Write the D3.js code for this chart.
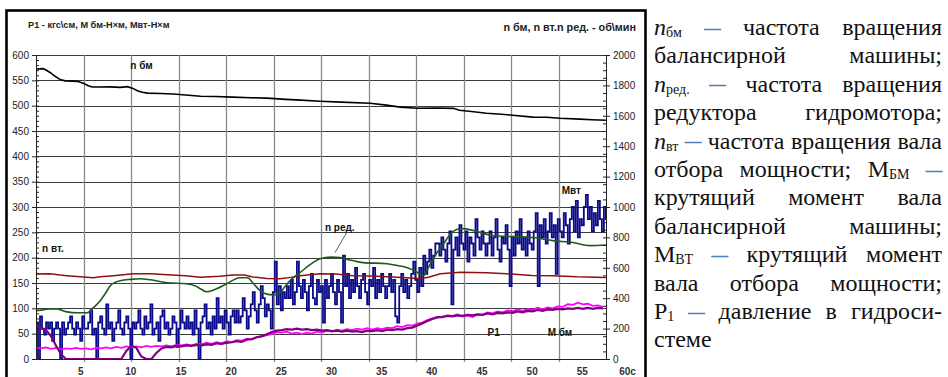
<!DOCTYPE html>
<html>
<head>
<meta charset="utf-8">
<script src="https://cdn.jsdelivr.net/npm/d3@7"></script>
<style>
  html, body { margin: 0; padding: 0; background: #fff; }
  svg { display: block; }
</style>
</head>
<body>
<svg id="chart" width="948" height="377"></svg>
<script>
// ---------------- data ----------------
// time in seconds; n-series in rpm (right axis), moments / pressure on the left axis
const xTickValues = [5, 10, 15, 20, 25, 30, 35, 40, 45, 50, 55, 60];
const leftTickValues = [0, 50, 100, 150, 200, 250, 300, 350, 400, 450, 500, 550, 600];
const rightTickValues = [0, 200, 400, 600, 800, 1000, 1200, 1400, 1600, 1800, 2000];

// n бм — balance machine speed, rpm
const nBmTime = [0.6, 1.3, 1.6, 2.0, 2.5, 3.0, 3.5, 4.3, 4.8, 5.3, 5.8, 6.2, 7.0, 8.0, 9.0, 9.7, 10.2, 10.7, 11.2, 11.7,
  13.0, 14.3, 15.5, 17.0, 18.5, 20.2, 22.0, 23.6, 25.5, 27.0, 28.9, 31.0, 33.9, 35.5, 36.9, 38.6, 40.5, 42.2, 42.8, 44.0,
  45.5, 47.0, 48.1, 50.1, 51.5, 52.8, 54.8, 56.0, 57.4];
const nBmValue = [1908, 1910, 1901, 1885, 1860, 1838, 1830, 1828, 1826, 1815, 1798, 1789, 1789, 1790, 1787, 1792, 1782, 1765, 1755, 1749,
  1747, 1743, 1737, 1729, 1727, 1723, 1719, 1716, 1708, 1703, 1696, 1690, 1683, 1670, 1657, 1650, 1651, 1649, 1637, 1628,
  1617, 1610, 1604, 1591, 1590, 1584, 1578, 1574, 1571];

// n ред. — hydraulic motor reducer speed, rpm
const nRedTime = [0.6, 1.4, 2.0, 2.7, 3.2, 3.7, 4.7, 5.7, 6.3, 7.0, 7.5, 8.0, 8.5, 9.0, 10.0, 11.0, 12.0, 13.7, 15.6, 16.5,
  17.0, 17.6, 18.6, 19.6, 20.9, 21.7, 22.2, 22.7, 23.2, 24.2, 24.9, 25.4, 25.9, 26.9, 28.2, 28.9, 30.0, 30.9, 32.0, 33.2,
  35.6, 36.6, 37.6, 38.5, 39.2, 39.7, 40.2, 40.7, 41.2, 41.7, 42.2, 42.7, 43.2, 44.0, 44.9, 46.1, 48.1, 50.1, 52.1, 54.1,
  55.8, 57.4];
const nRedValue = [317, 325, 330, 330, 320, 310, 304, 304, 337, 383, 430, 482, 505, 515, 524, 528, 521, 502, 495, 480,
  462, 442, 462, 495, 535, 535, 502, 465, 436, 422, 436, 475, 515, 568, 634, 660, 670, 667, 650, 634,
  627, 615, 601, 575, 548, 600, 660, 712, 755, 805, 840, 855, 858, 848, 832, 812, 805, 799, 779, 766,
  746, 750];

// n вт — PTO shaft speed, rpm
const nVtTime = [0.6, 2.0, 3.0, 3.7, 5.0, 6.3, 7.0, 8.3, 10.3, 12.0, 13.7, 15.5, 17.0, 18.9, 20.2, 21.4, 22.2, 23.6, 24.9, 26.0,
  26.9, 28.9, 30.5, 32.2, 34.0, 35.6, 37.5, 38.9, 39.8, 40.9, 42.9, 45.5, 47.5, 50.0, 52.1, 54.5, 57.4];
const nVtValue = [559, 561, 552, 548, 541, 535, 541, 548, 561, 561, 554, 548, 538, 545, 552, 552, 540, 530, 528, 537,
  548, 561, 559, 548, 546, 541, 534, 528, 540, 561, 570, 568, 561, 550, 548, 541, 537];

// Мвт — PTO shaft torque, N·m, sampled every 0.2 s from 0.6 s
const mvtStart = 0.6, mvtStep = 0.2;
const mvtValue = [
  72, 0, 84, 60, 48, 72, 60, 72, 36, 60, 72, 60, 0, 72, 48, 60, 72, 84, 60, 48, 72, 60, 36, 84, 60,
  60, 72, 96, 48, 60, 0, 72, 84, 60, 48, 108, 60, 72, 36, 60, 72, 96, 60, 48, 72, 84, 60, 0, 72, 60,
  72, 96, 60, 48, 84, 60, 72, 108, 48, 60, 72, 36, 84, 96, 60, 72, 48, 60, 84, 72, 24, 60, 96, 72, 60,
  84, 60, 72, 48, 96, 60, 0, 72, 84, 108, 60, 72, 48, 84, 60, 120, 72, 84, 60, 96, 72, 48, 84, 96, 72,
  96, 72, 84, 120, 96, 60, 84, 108, 132, 96, 72, 108, 144, 120, 84, 108, 96, 60, 132, 192, 108, 144, 96, 132, 120,
  144, 120, 156, 108, 132, 192, 144, 120, 156, 132, 96, 144, 168, 120, 108, 156, 132, 144, 72, 156, 120, 144, 168, 132, 108,
  156, 132, 72, 204, 144, 168, 120, 156, 132, 180, 144, 120, 156, 168, 132, 108, 156, 144, 180, 120, 156, 132, 168, 144, 120,
  144, 168, 132, 156, 84, 72, 144, 168, 132, 156, 120, 144, 168, 192, 156, 132, 180, 144, 204, 168, 192, 216, 180, 204, 228,
  228, 204, 240, 216, 192, 228, 252, 108, 216, 240, 204, 264, 228, 216, 252, 192, 240, 228, 204, 276, 240, 216, 252, 228, 204,
  228, 252, 204, 240, 276, 216, 192, 240, 228, 264, 216, 144, 240, 204, 252, 228, 276, 216, 240, 204, 252, 228, 216, 252, 288,
  144, 264, 240, 276, 228, 252, 288, 240, 264, 168, 276, 252, 240, 288, 264, 228, 276, 300, 252, 312, 240, 276, 264, 300, 324,
  276, 300, 252, 288, 264, 312, 276, 252, 300, 276, 264];

// P1 — hydraulic pressure, kgf/cm², every 0.5 s from 0.6 s
const p1Start = 0.6, p1Step = 0.5;
const p1Value = [
  22, 21, 23, 20, 22, 19, 21, 20, 22, 20, 21, 19, 22, 21, 23, 21, 24, 22, 25, 23,
  25, 23, 26, 24, 26, 25, 27, 25, 28, 27, 29, 27, 30, 29, 32, 30, 33, 31, 35, 33,
  37, 36, 40, 39, 43, 44, 47, 49, 53, 52, 54, 50, 52, 49, 52, 50, 54, 52, 56, 54,
  58, 56, 59, 57, 60, 58, 61, 58, 61, 59, 62, 61, 65, 63, 67, 66, 70, 72, 77, 80,
  83, 82, 86, 85, 88, 84, 86, 83, 88, 87, 92, 90, 94, 92, 96, 94, 98, 95, 99, 97,
  101, 98, 102, 100, 104, 103, 108, 107, 111, 108, 109, 105, 106, 103];

// М бм — balance machine torque, N·m, every 0.5 s from 0.6 s
const mBmStart = 0.6, mBmStep = 0.5;
const mBmValue = [
  62, 61, 57, 45, 26, 9, 0, 0, 0, 0, 0, 0, 0, 0, 0, 0, 0, 0, 16, 26,
  22, 5, 0, 0, 12, 21, 24, 23, 26, 25, 27, 26, 28, 27, 29, 28, 31, 30, 32, 33,
  35, 34, 38, 39, 43, 45, 49, 53, 56, 57, 59, 58, 60, 58, 59, 57, 58, 56, 57, 55,
  56, 54, 56, 54, 55, 53, 56, 55, 57, 55, 58, 57, 59, 58, 61, 62, 66, 70, 75, 79,
  82, 83, 85, 84, 86, 85, 87, 86, 88, 87, 90, 88, 91, 90, 92, 91, 94, 92, 95, 94,
  97, 95, 98, 97, 99, 98, 100, 99, 101, 99, 101, 99, 101, 100];

// explanatory text to the right of the chart
const noteLines = [
  [[{ t: "n", it: 1 }, { t: "бм", sub: 1 }], [{ t: "—", dash: 1 }], "частота", "вращения"],
  ["балансирной", "машины;"],
  [[{ t: "n", it: 1 }, { t: "ред.", sub: 1 }], [{ t: "—", dash: 1 }], "частота", "вращения"],
  ["редуктора", "гидромотора;"],
  [[{ t: "n", it: 1 }, { t: "вт", sub: 1 }], [{ t: "—", dash: 1 }], "частота", "вращения", "вала"],
  ["отбора", "мощности;", [{ t: "М" }, { t: "БМ", sub: 1 }], [{ t: "—", dash: 1 }]],
  ["крутящий", "момент", "вала"],
  ["балансирной", "машины;"],
  [[{ t: "М" }, { t: "ВТ", sub: 1 }], [{ t: "—", dash: 1 }], "крутящий", "момент"],
  ["вала", "отбора", "мощности;"],
  [[{ t: "P" }, { t: "1", sub: 1 }], [{ t: "—", dash: 1 }], "давление", "в", "гидроси-"],
  ["стеме"]
];

// ---------------- layout ----------------
const plot = { left: 36, right: 606, top: 55, bottom: 359 };
const svg = d3.select("#chart");
const sans = "'Liberation Sans', Arial, sans-serif";

const x = d3.scaleLinear().domain([0, 60]).range([30, 632]);
const yL = d3.scaleLinear().domain([0, 600]).range([plot.bottom, plot.top]);
const yR = d3.scaleLinear().domain([0, 2000]).range([plot.bottom, plot.top]);
const gridX = d3.scaleLinear().domain([0, 12]).range([plot.left, plot.right]);

svg.append("rect").attr("width", 948).attr("height", 377).attr("fill", "#fff");

// outer frame of the figure
svg.append("rect")
  .attr("x", 6.5).attr("y", 10.5).attr("width", 639).attr("height", 400)
  .attr("fill", "none").attr("stroke", "#000").attr("stroke-width", 2.6);

// grid
const gridG = svg.append("g");
gridG.selectAll("line.h").data(leftTickValues.slice(1)).join("line")
  .attr("x1", plot.left).attr("x2", plot.right)
  .attr("y1", d => Math.round(yL(d)) + 0.5).attr("y2", d => Math.round(yL(d)) + 0.5)
  .attr("stroke", "#3c3c3c").attr("stroke-width", 1);
gridG.selectAll("line.v").data(d3.range(1, 12)).join("line")
  .attr("x1", d => Math.round(gridX(d)) + 0.5).attr("x2", d => Math.round(gridX(d)) + 0.5)
  .attr("y1", plot.top).attr("y2", plot.bottom + 3)
  .attr("stroke", "#8a8a8a").attr("stroke-width", 1.3);

// clip for the data lines
svg.append("clipPath").attr("id", "plotClip").append("rect")
  .attr("x", plot.left).attr("y", plot.top - 2)
  .attr("width", plot.right - plot.left).attr("height", plot.bottom - plot.top + 3);

const series = svg.append("g").attr("clip-path", "url(#plotClip)");

function pairs(times, values) { return values.map((v, i) => [times[i], v]); }
function sampled(start, step, values) { return values.map((v, i) => [start + i * step, v]); }

const lineL = d3.line().x(d => x(d[0])).y(d => yL(d[1]));
const lineR = d3.line().x(d => x(d[0])).y(d => yR(d[1]));
const stepL = d3.line().x(d => x(d[0])).y(d => yL(d[1])).curve(d3.curveStepAfter);

// Мвт (navy), drawn first so the smoother curves sit above it
series.append("path").datum(sampled(mvtStart, mvtStep, mvtValue))
  .attr("d", stepL).attr("fill", "none").attr("stroke", "#0a0a8a").attr("stroke-width", 1.8);
// n вт (dark red)
series.append("path").datum(pairs(nVtTime, nVtValue))
  .attr("d", lineR).attr("fill", "none").attr("stroke", "#8e1010").attr("stroke-width", 1.5);
// n ред. (dark green)
series.append("path").datum(pairs(nRedTime, nRedValue))
  .attr("d", d3.line().x(d => x(d[0])).y(d => yR(d[1])).curve(d3.curveMonotoneX))
  .attr("fill", "none").attr("stroke", "#1d5a1d").attr("stroke-width", 1.6);
// n бм (black)
series.append("path").datum(pairs(nBmTime, nBmValue))
  .attr("d", lineR).attr("fill", "none").attr("stroke", "#000").attr("stroke-width", 1.6);
// P1 (magenta)
series.append("path").datum(sampled(p1Start, p1Step, p1Value))
  .attr("d", lineL).attr("fill", "none").attr("stroke", "#ff00ff").attr("stroke-width", 1.8);
// М бм (purple)
series.append("path").datum(sampled(mBmStart, mBmStep, mBmValue))
  .attr("d", lineL).attr("fill", "none").attr("stroke", "#800080").attr("stroke-width", 2.2);

// axes
const axisStyle = g => {
  g.selectAll("path, line").attr("stroke", "#222");
  g.selectAll("text").attr("fill", "#222").attr("font-family", sans).attr("font-size", 10);
};
svg.append("g").attr("transform", `translate(${plot.left},0)`)
  .call(d3.axisLeft(yL).tickValues(leftTickValues).tickSize(4).tickSizeOuter(0).tickPadding(3).tickFormat(d3.format("d")))
  .call(axisStyle);
svg.append("g").attr("transform", `translate(${plot.left},0)`)
  .call(d3.axisRight(yL).tickValues(d3.range(0, 601, 10)).tickSize(3).tickSizeOuter(0).tickFormat(""))
  .call(axisStyle);
svg.append("g").attr("transform", `translate(${plot.right},0)`)
  .call(d3.axisRight(yR).tickValues(rightTickValues).tickSize(4).tickSizeOuter(0).tickPadding(3).tickFormat(d3.format("d")))
  .call(axisStyle);
svg.append("g").attr("transform", `translate(${plot.right},0)`)
  .call(d3.axisLeft(yR).tickValues(d3.range(0, 2001, 50)).tickSize(3).tickSizeOuter(0).tickFormat(""))
  .call(axisStyle);
svg.append("line").attr("x1", plot.left).attr("x2", plot.right)
  .attr("y1", plot.bottom + 0.5).attr("y2", plot.bottom + 0.5).attr("stroke", "#222");
const xAxisG = svg.append("g").attr("transform", `translate(0,${plot.bottom})`)
  .call(d3.axisBottom(x).tickValues(xTickValues).tickSize(0).tickPadding(9)
    .tickFormat(d => d === 60 ? "60с" : d))
  .call(axisStyle);
xAxisG.select(".domain").remove();
xAxisG.selectAll("text").attr("font-weight", "bold").attr("fill", "#333")
  .attr("dx", d => d === 60 ? "-0.5em" : 0);

// titles
svg.append("text").attr("x", 28).attr("y", 28)
  .attr("font-family", sans).attr("font-size", 9.2).attr("font-weight", "bold").attr("fill", "#222")
  .text("P1 - кгс\\см,  М бм-Н×м, Мвт-Н×м");
svg.append("text").attr("x", 636).attr("y", 31).attr("text-anchor", "end")
  .attr("font-family", sans).attr("font-size", 10.8).attr("font-weight", "bold").attr("fill", "#222")
  .text("n бм, n вт.n ред. - об\\мин");

// series labels, positioned in data coordinates (time, left-axis value)
const seriesLabels = [
  { text: "n бм", t: 10.0, v: 572 },
  { text: "n вт.", t: 1.2, v: 211 },
  { text: "n ред.", t: 29.4, v: 253 },
  { text: "Мвт", t: 53.0, v: 326 },
  { text: "P1", t: 45.6, v: 45 },
  { text: "М бм", t: 51.6, v: 45 }
];
svg.append("g").selectAll("text").data(seriesLabels).join("text")
  .attr("x", d => x(d.t)).attr("y", d => yL(d.v))
  .attr("font-family", sans).attr("font-size", 10).attr("font-weight", "bold").attr("fill", "#111")
  .text(d => d.text);
// leader from the "n ред." label to its curve
svg.append("line")
  .attr("x1", x(31.6)).attr("y1", yL(251)).attr("x2", x(30.4)).attr("y2", yL(210))
  .attr("stroke", "#333").attr("stroke-width", 0.8);

// explanatory text block, justified
const note = svg.append("g").attr("font-family", "'Liberation Serif', 'Times New Roman', serif")
  .attr("font-size", 24).attr("fill", "#111");
const noteLeft = 654, noteRight = 942, noteTop = 35, noteLead = 28.4;
noteLines.forEach((words, li) => {
  const y = noteTop + li * noteLead;
  const nodes = words.map(w => {
    const t = note.append("text").attr("y", y);
    const parts = typeof w === "string" ? [{ t: w }] : w;
    parts.forEach(p => {
      const ts = t.append("tspan").text(p.t);
      if (p.it) ts.attr("font-style", "italic");
      if (p.sub) ts.attr("font-size", 14).attr("dy", 2);
      if (p.dash) ts.attr("fill", "#4f7fc0").attr("stroke", "#4f7fc0").attr("stroke-width", 0.8)
        .attr("font-size", 16).attr("dy", -2.5);
    });
    return t;
  });
  const widths = nodes.map(n => n.node().getComputedTextLength());
  const total = d3.sum(widths);
  const last = li === noteLines.length - 1;
  const gap = (!last && nodes.length > 1) ? (noteRight - noteLeft - total) / (nodes.length - 1) : 6;
  let cx = noteLeft;
  nodes.forEach((n, i) => { n.attr("x", cx); cx += widths[i] + gap; });
});
</script>
</body>
</html>
